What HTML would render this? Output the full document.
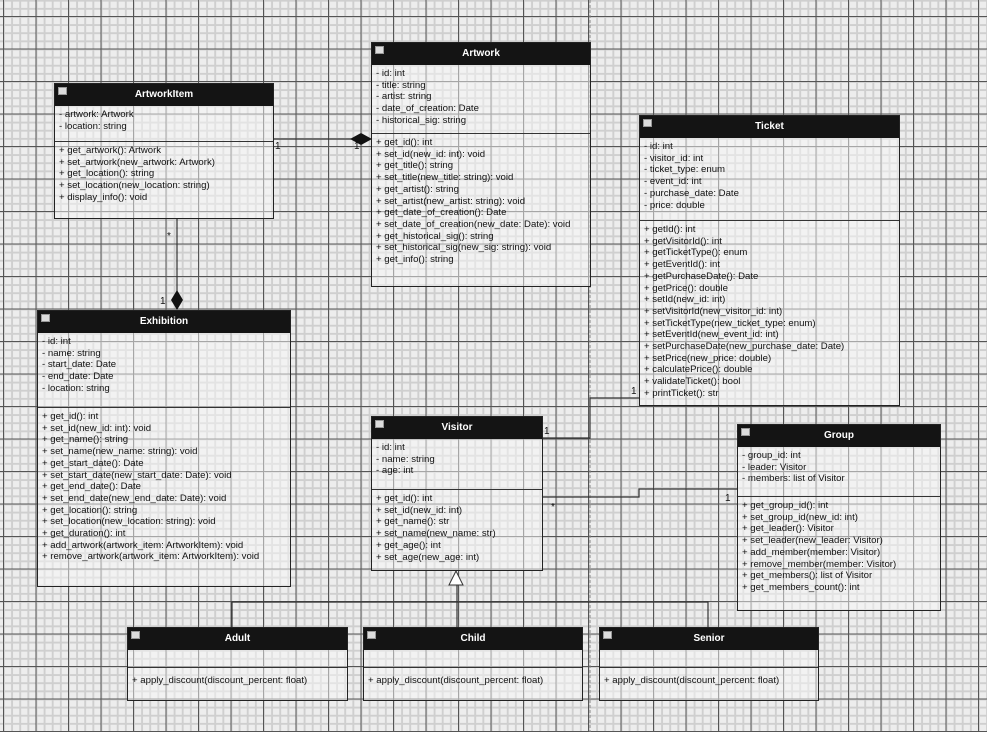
<!DOCTYPE html>
<html><head><meta charset="utf-8"><style>
body{margin:0;width:987px;height:732px;overflow:hidden;position:relative;font-family:"Liberation Sans",sans-serif;
background-color:#ededed;
background-image:
linear-gradient(to right,#555 1px,transparent 1px),
linear-gradient(to bottom,#555 1px,transparent 1px),
linear-gradient(to right,#cfcfcf 2px,transparent 2px),
linear-gradient(to bottom,#cfcfcf 2px,transparent 2px);
background-size:32.5px 32.5px,32.5px 32.5px,8.125px 8.125px,8.125px 8.125px;
background-position:3px 16px,3px 16px,3px 16px,3px 16px;}
.b{position:absolute;background:rgba(248,248,248,0.5);border:1px solid #222;box-sizing:border-box;font-size:9.6px;color:#111}
.h{background:#141414;color:#fff;font-weight:bold;text-align:center;height:22px;line-height:22px;font-size:10px;position:relative}
.h:before{content:"";position:absolute;left:3px;top:3px;width:7px;height:6px;background:#ddd;border:1px solid #999}
.s{padding:3px 4px;line-height:11.7px;white-space:nowrap;border-bottom:1px solid #333;box-sizing:border-box}
.s:last-child{border-bottom:none}
svg{position:absolute;left:0;top:0}
.l{position:absolute;font-size:10px;color:#111}
</style></head><body>
<svg width="987" height="732">
<line x1="590" y1="0" x2="590" y2="732" stroke="#888" stroke-dasharray="3,2"/>
<g stroke="#333" fill="none" stroke-width="1.2">
<line x1="273" y1="139" x2="351" y2="139"/>
<line x1="177" y1="218" x2="177" y2="291"/>
<polyline points="542,438 590,438 590,398 639,398"/>
<polyline points="542,497 639,497 639,489 737,489"/>
<polyline points="232,627 232,602 708,602 708,627"/>
<line x1="457" y1="585" x2="457" y2="627"/>
</g>
<polygon points="350,139 361,133 372,139 361,145" fill="#111"/>
<polygon points="177,290 183,300 177,310 171,300" fill="#111"/>
<polygon points="456,571 449,585 463,585" fill="#fff" stroke="#333"/>
</svg>
<div class="l" style="left:275px;top:141px">1</div>
<div class="l" style="left:354px;top:141px">1</div>
<div class="l" style="left:167px;top:231px">*</div>
<div class="l" style="left:160px;top:296px">1</div>
<div class="l" style="left:544px;top:426px">1</div>
<div class="l" style="left:631px;top:386px">1</div>
<div class="l" style="left:551px;top:502px">*</div>
<div class="l" style="left:725px;top:493px">1</div>

<div class="b" style="left:54px;top:83px;width:220px;height:136px"><div class="h">ArtworkItem</div>
<div class="s" style="height:36px">- artwork: Artwork<br>- location: string</div>
<div class="s">+ get_artwork(): Artwork<br>+ set_artwork(new_artwork: Artwork)<br>+ get_location(): string<br>+ set_location(new_location: string)<br>+ display_info(): void</div></div>

<div class="b" style="left:371px;top:42px;width:220px;height:245px"><div class="h">Artwork</div>
<div class="s" style="height:69px">- id: int<br>- title: string<br>- artist: string<br>- date_of_creation: Date<br>- historical_sig: string</div>
<div class="s">+ get_id(): int<br>+ set_id(new_id: int): void<br>+ get_title(): string<br>+ set_title(new_title: string): void<br>+ get_artist(): string<br>+ set_artist(new_artist: string): void<br>+ get_date_of_creation(): Date<br>+ set_date_of_creation(new_date: Date): void<br>+ get_historical_sig(): string<br>+ set_historical_sig(new_sig: string): void<br>+ get_info(): string</div></div>

<div class="b" style="left:639px;top:115px;width:261px;height:291px"><div class="h">Ticket</div>
<div class="s" style="height:83px">- id: int<br>- visitor_id: int<br>- ticket_type: enum<br>- event_id: int<br>- purchase_date: Date<br>- price: double</div>
<div class="s">+ getId(): int<br>+ getVisitorId(): int<br>+ getTicketType(): enum<br>+ getEventId(): int<br>+ getPurchaseDate(): Date<br>+ getPrice(): double<br>+ setId(new_id: int)<br>+ setVisitorId(new_visitor_id: int)<br>+ setTicketType(new_ticket_type: enum)<br>+ setEventId(new_event_id: int)<br>+ setPurchaseDate(new_purchase_date: Date)<br>+ setPrice(new_price: double)<br>+ calculatePrice(): double<br>+ validateTicket(): bool<br>+ printTicket(): str</div></div>

<div class="b" style="left:37px;top:310px;width:254px;height:277px"><div class="h">Exhibition</div>
<div class="s" style="height:75px">- id: int<br>- name: string<br>- start_date: Date<br>- end_date: Date<br>- location: string</div>
<div class="s">+ get_id(): int<br>+ set_id(new_id: int): void<br>+ get_name(): string<br>+ set_name(new_name: string): void<br>+ get_start_date(): Date<br>+ set_start_date(new_start_date: Date): void<br>+ get_end_date(): Date<br>+ set_end_date(new_end_date: Date): void<br>+ get_location(): string<br>+ set_location(new_location: string): void<br>+ get_duration(): int<br>+ add_artwork(artwork_item: ArtworkItem): void<br>+ remove_artwork(artwork_item: ArtworkItem): void</div></div>

<div class="b" style="left:371px;top:416px;width:172px;height:155px"><div class="h">Visitor</div>
<div class="s" style="height:51px">- id: int<br>- name: string<br>- age: int</div>
<div class="s">+ get_id(): int<br>+ set_id(new_id: int)<br>+ get_name(): str<br>+ set_name(new_name: str)<br>+ get_age(): int<br>+ set_age(new_age: int)</div></div>

<div class="b" style="left:737px;top:424px;width:204px;height:187px"><div class="h">Group</div>
<div class="s" style="height:50px">- group_id: int<br>- leader: Visitor<br>- members: list of Visitor</div>
<div class="s">+ get_group_id(): int<br>+ set_group_id(new_id: int)<br>+ get_leader(): Visitor<br>+ set_leader(new_leader: Visitor)<br>+ add_member(member: Visitor)<br>+ remove_member(member: Visitor)<br>+ get_members(): list of Visitor<br>+ get_members_count(): int</div></div>

<div class="b" style="left:127px;top:627px;width:221px;height:74px"><div class="h">Adult</div>
<div class="s" style="height:18px"></div>
<div class="s" style="padding-top:7px">+ apply_discount(discount_percent: float)</div></div>
<div class="b" style="left:363px;top:627px;width:220px;height:74px"><div class="h">Child</div>
<div class="s" style="height:18px"></div>
<div class="s" style="padding-top:7px">+ apply_discount(discount_percent: float)</div></div>
<div class="b" style="left:599px;top:627px;width:220px;height:74px"><div class="h">Senior</div>
<div class="s" style="height:18px"></div>
<div class="s" style="padding-top:7px">+ apply_discount(discount_percent: float)</div></div>
</body></html>
